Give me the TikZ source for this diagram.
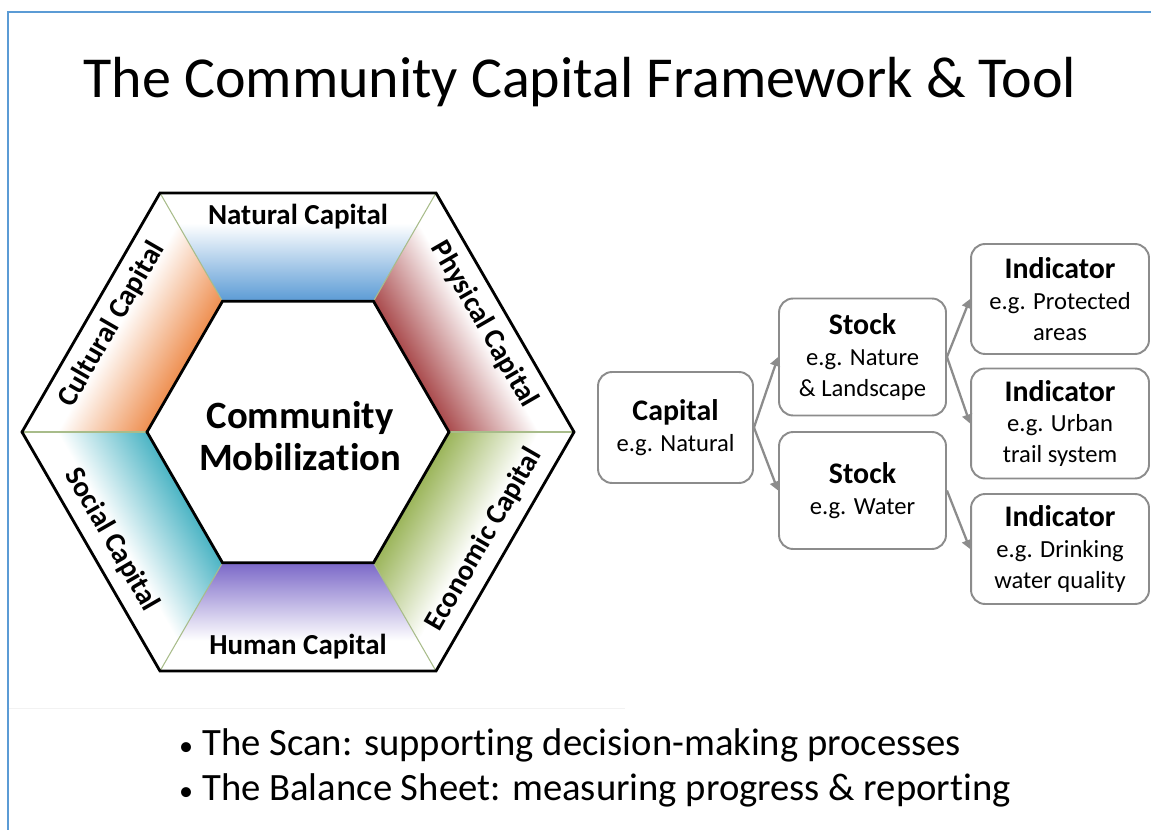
\documentclass[tikz,border=0pt]{standalone}
\usepackage{fontspec}
\setmainfont{Carlito}[Ligatures={NoCommon}]
\usetikzlibrary{positioning,arrows.meta}
\definecolor{frameblue}{HTML}{5B9BD5}
\definecolor{natc}{HTML}{5B9BD5}
\definecolor{physc}{HTML}{A94A4C}
\definecolor{econc}{HTML}{9BB55A}
\definecolor{humc}{HTML}{7B68C8}
\definecolor{socc}{HTML}{4BB4C4}
\definecolor{cultc}{HTML}{EE8E4F}
\definecolor{seam}{HTML}{A8BC8A}
\definecolor{boxgray}{HTML}{8C8C8C}

\begin{document}
\begin{tikzpicture}[x=0.02cm, y=0.02cm,
  every node/.style={inner sep=0pt},
  hexline/.style={line width=1.6pt, line join=miter},
  seamline/.style={seam, line width=0.6pt},
  hexlabel/.style={font=\fontsize{16.5}{19}\selectfont\bfseries},
  treebox/.style={
    draw=boxgray, line width=1.1pt, rounded corners=8pt, fill=white,
    align=center, font=\fontsize{14}{17.5}\selectfont,
  },
  capbox/.style={treebox, minimum width=3.1cm, minimum height=2.22cm},
  stockbox/.style={treebox, minimum width=3.34cm, minimum height=2.34cm},
  indbox/.style={treebox, minimum width=3.56cm, minimum height=2.2cm},
  link/.style={-{Triangle[length=1.8mm, width=2mm]}, line width=1.3pt, boxgray},
  bullettext/.style={font=\fontsize{22}{26}\selectfont, anchor=base west},
  bulletdot/.style={font=\fontsize{16}{26}\selectfont, anchor=base},
]
  \useasboundingbox (0,0) rectangle (1151,-830);

  % slide frame
  \draw[frameblue, line width=1.2pt] (1151,-12) -- (8,-12) -- (8,-830);
  \draw[gray!10, line width=0.5pt] (9,-708) -- (625,-708);

  \node[font=\fontsize{33}{40}\selectfont, anchor=base] (title) at (580,-98)
    {The Community Capital Framework \& Tool};

  % hexagon: shaded bands
  \foreach \ang/\col in {90/natc,30/physc,-30/econc,-90/humc,-150/socc,150/cultc} {
    \begin{scope}[transform canvas={rotate around={\ang-90:(298,-432)}}]
      \begin{scope}[shift={(298,-432)}]
        \shade[bottom color=\col, middle color=\col!55, top color=white]
          (60:241) -- (120:241) -- (120:151) -- (60:151) -- cycle;
      \end{scope}
    \end{scope}
  }

  \begin{scope}[shift={(298,-432)}]
    \foreach \ang in {0,60,...,300}
      \draw[seamline] (\ang:151) -- (\ang:276);
    \draw[hexline] (0:276) -- (60:276) -- (120:276) -- (180:276)
      -- (240:276) -- (300:276) -- cycle;
    \draw[hexline] (0:151) -- (60:151) -- (120:151) -- (180:151)
      -- (240:151) -- (300:151) -- cycle;

    \foreach \ang/\rot/\txt/\nm in {90/0/Natural Capital/natural,
        30/-60/Physical Capital/physical, -30/60/Economic Capital/economic,
        -90/0/Human Capital/human, -150/-60/Social Capital/social,
        150/60/Cultural Capital/cultural}
      \node[hexlabel, rotate=\rot] (\nm) at (\ang:215) {\txt};

    \node[font=\fontsize{22}{24}\selectfont\bfseries, align=center] (mobil) at (2,-4)
      {Community\\Mobilization};
  \end{scope}

  % capital -> stock -> indicator
  \node[capbox] (capital) at (675.5,-427.5)
    {{\fontsize{17}{20}\selectfont\bfseries Capital}\\e.g. Natural};
  \node[stockbox] (stock1) at (862.5,-357)
    {{\fontsize{17}{20}\selectfont\bfseries Stock}\\e.g. Nature\\\& Landscape};
  \node[stockbox] (stock2) at (862.5,-490.5)
    {{\fontsize{17}{20}\selectfont\bfseries Stock}\\e.g. Water};
  \node[indbox] (ind1) at (1060,-299)
    {{\fontsize{17}{20}\selectfont\bfseries Indicator}\\e.g. Protected\\areas};
  \node[indbox] (ind2) at (1060,-423.5)
    {{\fontsize{17}{20}\selectfont\bfseries Indicator}\\e.g. Urban\\trail system};
  \node[indbox] (ind3) at (1060,-549)
    {{\fontsize{17}{20}\selectfont\bfseries Indicator}\\e.g. Drinking\\water quality};

  \draw[link] (capital.east) -- (stock1.west);
  \draw[link] (capital.east) -- (stock2.west);
  \draw[link] (stock1.east) -- (ind1.west);
  \draw[link] (stock1.east) -- (ind2.west);
  \draw[link] (stock2.east) -- (ind3.west);

  % bullets
  \node[bulletdot] (dot1) at (186,-755) {\textbullet};
  \node[bullettext] (scan) at (202,-755)
    {The Scan: supporting decision-making processes};
  \node[bulletdot] (dot2) at (186,-800) {\textbullet};
  \node[bullettext] (sheet) at (202,-800)
    {The Balance Sheet: measuring progress \& reporting};
\end{tikzpicture}
\end{document}
